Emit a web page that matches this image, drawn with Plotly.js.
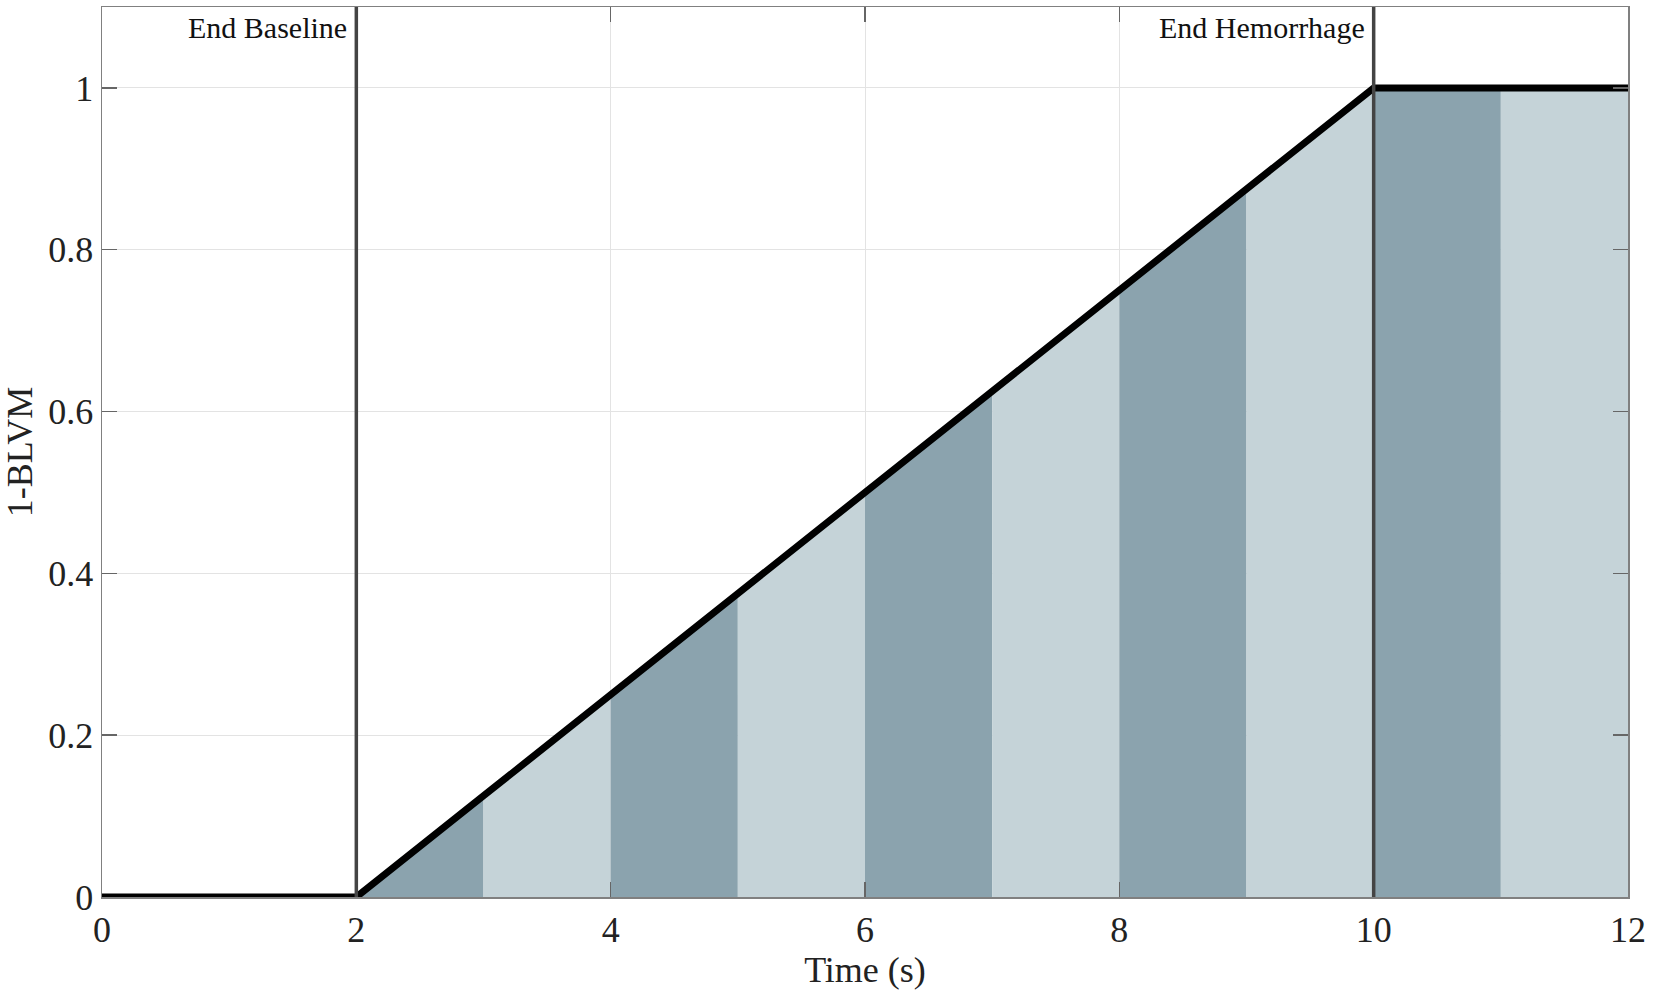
<!DOCTYPE html>
<html>
<head>
<meta charset="utf-8">
<script src="https://cdn.plot.ly/plotly-3.0.1.min.js"></script>
<style>
  html, body { margin: 0; padding: 0; background: #fff; }
  #plot { width: 1654px; height: 1001px; }
</style>
</head>
<body>
<div id="plot"></div>
<script>
// 1-BLVM read at every second
const time = [0, 1, 2, 3, 4, 5, 6, 7, 8, 9, 10, 11, 12];
const blvm = [0, 0, 0, 0.125, 0.25, 0.375, 0.5, 0.625, 0.75, 0.875, 1, 1, 1];

// shaded one-second bands start at these times
const bandStarts = [2, 3, 4, 5, 6, 7, 8, 9, 10, 11];
const bandColors = ["#8ba3ae", "#c5d3d8"];

const markerTimes = [2, 10];
const markerLabels = ["End Baseline", "End Hemorrhage"];

const xTicks = [0, 2, 4, 6, 8, 10, 12];
const yTicks = [0, 0.2, 0.4, 0.6, 0.8, 1];

const traces = [];
bandStarts.forEach((t0, i) => {
  const k = time.indexOf(t0);
  traces.push({
    x: [time[k], time[k + 1]],
    y: [blvm[k], blvm[k + 1]],
    type: "scatter",
    mode: "lines",
    fill: "tozeroy",
    fillcolor: bandColors[i % 2],
    line: { width: 0 },
    hoverinfo: "skip",
    showlegend: false
  });
});

traces.push({
  x: time,
  y: blvm,
  type: "scatter",
  mode: "lines",
  line: { color: "#000", width: 7 },
  showlegend: false
});

const shapes = markerTimes.map(t => ({
  type: "line",
  xref: "x", yref: "paper",
  x0: t, x1: t, y0: 0, y1: 1,
  line: { color: "#444", width: 3.5 }
}));

const annotations = markerTimes.map((t, i) => ({
  x: t, y: 1.075,
  xref: "x", yref: "y",
  text: markerLabels[i],
  showarrow: false,
  xanchor: "right", yanchor: "middle",
  xshift: -7,
  font: { family: "Liberation Serif", size: 30, color: "#111" }
}));

const axisCommon = {
  showline: true,
  linecolor: "#808080",
  linewidth: 1.5,
  mirror: "ticks",
  ticks: "inside",
  ticklen: 15,
  tickwidth: 1.5,
  tickcolor: "#666",
  showgrid: true,
  gridcolor: "#e3e3e3",
  gridwidth: 1,
  zeroline: false,
  tickfont: { family: "Liberation Serif", size: 36, color: "#222" }
};

const layout = {
  width: 1654,
  height: 1001,
  margin: { l: 102, r: 26, t: 7, b: 104 },
  paper_bgcolor: "#fff",
  plot_bgcolor: "#fff",
  xaxis: Object.assign({}, axisCommon, {
    range: [0, 12],
    tickvals: xTicks,
    title: { text: "Time (s)", font: { family: "Liberation Serif", size: 36, color: "#222" }, standoff: 6 }
  }),
  yaxis: Object.assign({}, axisCommon, {
    range: [0, 1.1],
    tickvals: yTicks,
    title: { text: "1-BLVM", font: { family: "Liberation Serif", size: 36, color: "#222" }, standoff: 8 }
  }),
  shapes: shapes,
  annotations: annotations
};

Plotly.newPlot("plot", traces, layout, { displayModeBar: false, staticPlot: true });
</script>
</body>
</html>
